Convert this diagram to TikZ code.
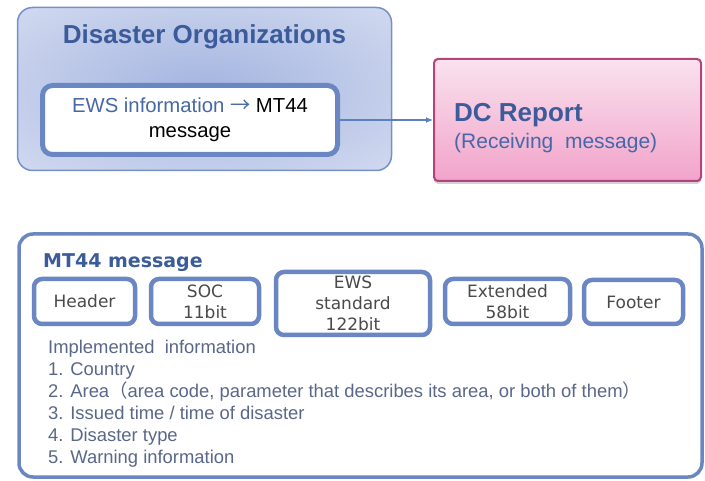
\documentclass[tikz,border=0pt]{standalone}
\usepackage{fontspec}
\setmainfont{Liberation Sans}
\newfontfamily\dv{DejaVu Sans}
\newfontfamily\cjk{Noto Sans CJK JP}
\usetikzlibrary{arrows.meta,shadows}
\definecolor{orgin}{HTML}{A4B5E0}
\definecolor{orgout}{HTML}{E4E8F6}
\definecolor{orgborder}{HTML}{7291CC}
\definecolor{titleblue}{HTML}{3B5B9A}
\definecolor{ewsblue}{HTML}{4667A8}
\definecolor{boxblue}{HTML}{6A87C3}
\definecolor{pinktop}{HTML}{F9E2EE}
\definecolor{pinkbot}{HTML}{F2A3CA}
\definecolor{pinkborder}{HTML}{B4427F}
\definecolor{fieldtext}{HTML}{4A4A4A}
\definecolor{listtext}{HTML}{5A6788}
\definecolor{arrowblue}{HTML}{5B7FC0}
\pgfdeclareradialshading{orgshade}{\pgfpoint{0bp}{0bp}}{color(0bp)=(orgin); color(50bp)=(orgout)}
\tikzset{
  fieldbox/.style={draw=boxblue, line width=4.5pt, rounded corners=8pt, fill=white,
    align=center, text=fieldtext, font=\dv\fontsize{17}{21}\selectfont, inner sep=0pt},
  listline/.style={anchor=base west, inner sep=0pt, text=listtext, font=\fontsize{18.4}{22}\selectfont},
}
\begin{document}
\begin{tikzpicture}[x=1pt,y=-1pt]
\useasboundingbox (0,0) rectangle (705,481);
% Disaster Organizations
\path[shading=orgshade, draw=orgborder, line width=1.5pt, rounded corners=15pt]
  (17.5,7.5) rectangle (391.5,170.5);
\node[text=titleblue, font=\bfseries\fontsize{26}{30}\selectfont, inner sep=0pt] (orgtitle) at (204.5,37) {Disaster Organizations};
\node[draw=boxblue, fill=white, line width=5pt, rounded corners=10pt, minimum width=295pt, minimum height=69pt,
  align=center, font=\fontsize{20.3}{25}\selectfont, inner sep=0pt] (ews) at (190,120)
  {\textcolor{ewsblue}{EWS information {\cjk →}} MT44\\message};
% DC Report
\node[draw=pinkborder, line width=2pt, rounded corners=4pt, top color=pinktop, bottom color=pinkbot,
  minimum width=267pt, minimum height=122pt, inner sep=0pt,
  drop shadow={shadow xshift=0pt, shadow yshift=-3pt, opacity=0.35, fill=gray}] (dc) at (567.5,120) {};
\node[anchor=base west, inner sep=0pt, text=titleblue, font=\bfseries\fontsize{26}{30}\selectfont] (dct) at (454,122) {DC Report};
\node[anchor=base west, inner sep=0pt, text=ewsblue, font=\fontsize{21}{25}\selectfont] (dcs) at (454,149) {(Receiving\ \ message)};
\draw[arrowblue, line width=1.3pt, -{Latex[length=7pt,width=6pt]}] (ews.east) -- (dc.west);
% MT44 panel
\node[draw=boxblue, line width=3.5pt, rounded corners=14pt, fill=white, minimum width=683pt, minimum height=243pt, inner sep=0pt] (panel) at (360.5,355.5) {};
\node[anchor=base west, inner sep=0pt, text=titleblue, font=\dv\bfseries\fontsize{19}{22}\selectfont] (mtt) at (43,268) {MT44 message};
\node[fieldbox, minimum width=101pt, minimum height=45pt] (hdr) at (84.5,301.5) {Header};
\node[fieldbox, minimum width=108pt, minimum height=45pt] (soc) at (205,301.5) {SOC\\11bit};
\node[fieldbox, minimum width=154pt, minimum height=63pt] (ewsf) at (353,303.5) {EWS\\standard\\122bit};
\node[fieldbox, minimum width=125pt, minimum height=45pt] (ext) at (507.5,301.5) {Extended\\58bit};
\node[fieldbox, minimum width=99pt, minimum height=44pt] (ftr) at (633.5,302) {Footer};
\node[listline] (l0) at (48,354) {Implemented\ \ information};
\node[listline] (l1) at (48,376) {1. Country};
\node[listline] (l2) at (48,398) {2. Area{\cjk （}area code, parameter that describes its area, or both of them{\cjk ）}};
\node[listline] (l3) at (48,420) {3. Issued time / time of disaster};
\node[listline] (l4) at (48,442) {4. Disaster type};
\node[listline] (l5) at (48,464) {5. Warning information};
\end{tikzpicture}
\end{document}
